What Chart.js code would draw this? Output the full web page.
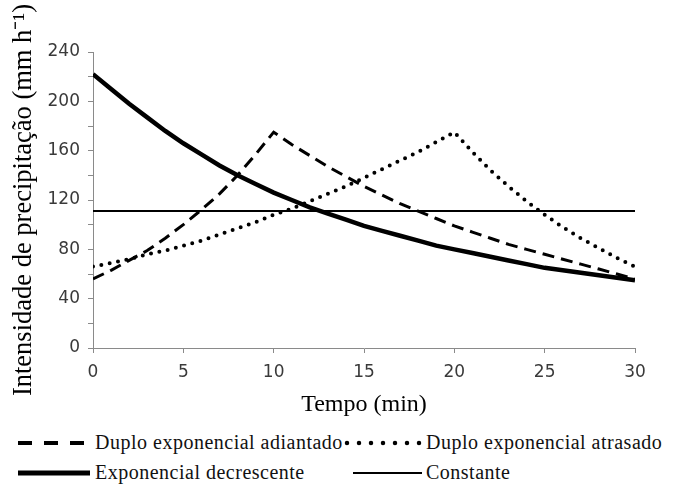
<!DOCTYPE html>
<html>
<head>
<meta charset="utf-8">
<script src="https://cdn.jsdelivr.net/npm/chart.js@4/dist/chart.umd.min.js"></script>
<style>
  body { margin: 0; background: #fff; }
  #wrap { position: relative; width: 683px; height: 485px; overflow: hidden; }
  #chart { position: absolute; left: 0; top: 0; }
  .leg-line { position: absolute; }
  .leg-text { position: absolute; font-family: "Liberation Serif", serif; font-size: 20px; letter-spacing: 0.5px; color: #111; white-space: nowrap; line-height: 20px; }
</style>
</head>
<body>
<div id="wrap">
  <canvas id="chart" width="683" height="420"></canvas>
  <div id="legend"></div>
</div>
<script>
// tempo (min)
const tempo = [0,1,2,3,4,5,6,7,8,9,10,11,12,13,14,15,16,17,18,19,20,21,22,23,24,25,26,27,28,29,30];

const adiantado = [56,63,71,79,89,100,112,125,140,157,175,165,156,147,139,131,124,117,111,105,99,94,89,84,80,76,72,68,64,60,56];
const atrasado = [66,69,72,76,79,83,87,92,97,102,108,113,119,125,131,138,145,152,159,167,175,159,144,131,119,108,98,89,81,73,66];
const decrescente = [222,210,198,187,176,166,157,148,140,133,126,120,114,109,104,99,95,91,87,83,80,77,74,71,68,65,63,61,59,57,55];
const constante = [111,111,111,111,111,111,111,111,111,111,111,111,111,111,111,111,111,111,111,111,111,111,111,111,111,111,111,111,111,111,111];

const seriesNames = ['Duplo exponencial adiantado', 'Duplo exponencial atrasado', 'Exponencial decrescente', 'Constante'];

const toPoints = vals => vals.map((v, i) => ({ x: tempo[i], y: v }));

const datasets = [
  { label: seriesNames[0], data: toPoints(adiantado), borderColor: '#000', borderWidth: 3, borderDash: [12, 7], borderCapStyle: 'butt' },
  { label: seriesNames[1], data: toPoints(atrasado), borderColor: '#000', borderWidth: 4, borderDash: [0, 8.5], borderCapStyle: 'round' },
  { label: seriesNames[2], data: toPoints(decrescente), borderColor: '#000', borderWidth: 4.5 },
  { label: seriesNames[3], data: toPoints(constante), borderColor: '#000', borderWidth: 2 }
];
datasets.forEach(d => { d.pointRadius = 0; d.tension = 0; d.fill = false; });

const axisGray = '#8a8a8a';
const tickFont = { family: 'DejaVu Sans', size: 17 };

new Chart(document.getElementById('chart').getContext('2d'), {
  type: 'line',
  data: { datasets: datasets },
  options: {
    responsive: false,
    animation: false,
    layout: { padding: { top: 52, right: 48, left: 0, bottom: 0 } },
    plugins: { legend: { display: false }, tooltip: { enabled: false } },
    scales: {
      x: {
        type: 'linear',
        min: 0, max: 30,
        ticks: { stepSize: 5, color: '#3a3a3a', font: tickFont, padding: 9 },
        grid: { drawOnChartArea: false, color: axisGray, tickLength: 5 },
        border: { color: axisGray },
        title: { display: true, text: 'Tempo (min)', color: '#000', font: { family: 'Liberation Serif', size: 24 }, padding: { top: 0, bottom: 1 } },
        afterFit: s => { s.height = 72; }
      },
      y: {
        min: 0, max: 240,
        ticks: {
          stepSize: 20, color: '#3a3a3a', font: tickFont, padding: 8,
          callback: v => (v % 40 === 0 ? v : '')
        },
        grid: { drawOnChartArea: false, color: axisGray, tickLength: 5 },
        border: { color: axisGray },
        title: { display: true, text: 'Intensidade de precipitação (mm h⁻¹)', color: '#000', font: { family: 'Liberation Serif', size: 26.5 }, padding: { top: 8, bottom: 0 } },
        afterFit: s => { s.width = 93; }
      }
    }
  }
});

// legenda: duas linhas, duas colunas
const legLine = [[18, 88, 443, [14, 12], 4, 'butt'], [347, 420, 443, [0, 12], 4.5, 'round'], [18, 90, 473, null, 5, 'butt'], [353, 422, 473, null, 2, 'butt']];
const legText = [[95, 443], [426, 443], [95, 473], [426, 473]];
const legendBox = document.getElementById('legend');
datasets.forEach((d, i) => {
  const [x1, x2, y, dash, w, cap] = legLine[i];
  const svg = document.createElementNS('http://www.w3.org/2000/svg', 'svg');
  svg.setAttribute('class', 'leg-line');
  svg.setAttribute('width', x2 - x1 + 6);
  svg.setAttribute('height', 12);
  svg.style.left = (x1 - 3) + 'px';
  svg.style.top = (y - 6) + 'px';
  svg.innerHTML = `<line x1="3" y1="6" x2="${x2 - x1 + 3}" y2="6" stroke="#000" stroke-width="${w}" stroke-linecap="${cap}" ${dash ? `stroke-dasharray="${dash.join(' ')}"` : ''}/>`;
  legendBox.appendChild(svg);

  const span = document.createElement('div');
  span.className = 'leg-text';
  span.style.left = legText[i][0] + 'px';
  span.style.top = (legText[i][1] - 11) + 'px';
  span.textContent = d.label;
  legendBox.appendChild(span);
});
</script>
</body>
</html>
